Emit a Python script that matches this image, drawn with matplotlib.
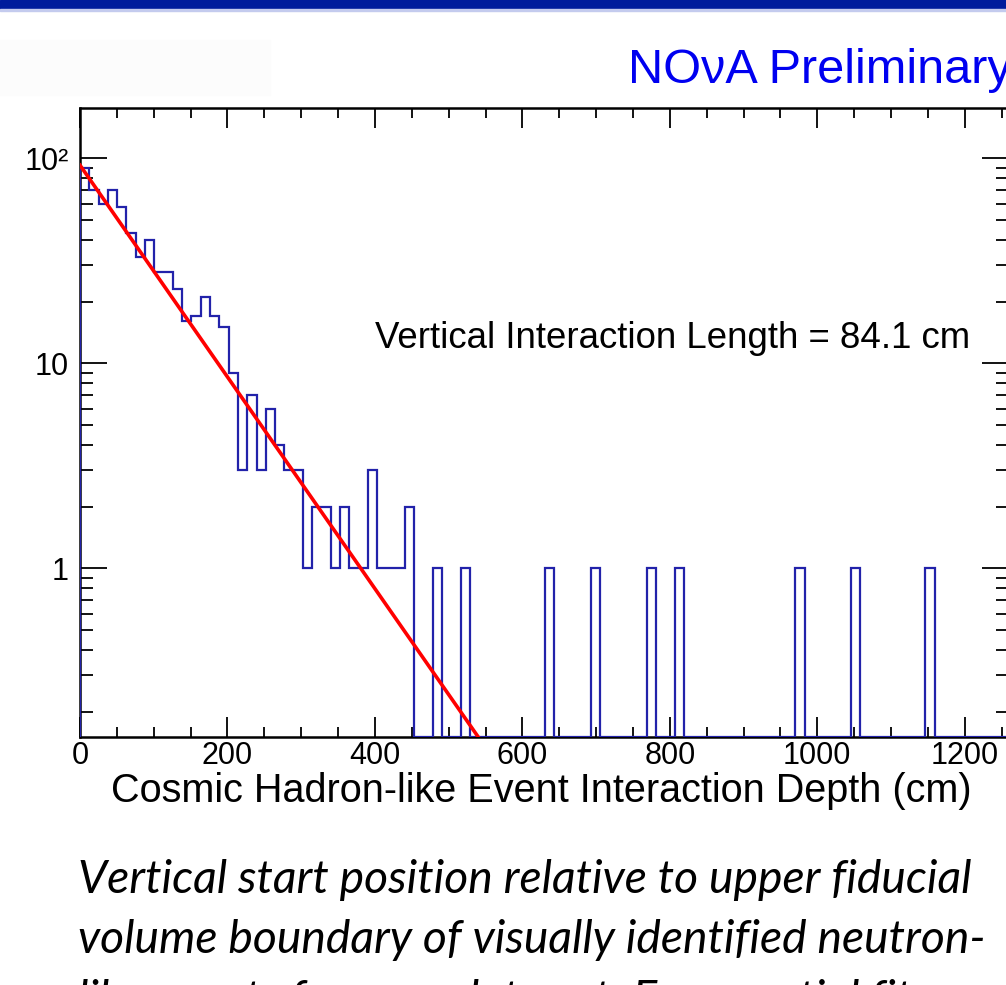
import numpy as np
import matplotlib
matplotlib.use('Agg')
import matplotlib.pyplot as plt
from matplotlib.patches import Rectangle
from matplotlib.ticker import MultipleLocator, FixedLocator, FixedFormatter, NullFormatter

# interaction depth histogram: 100 bins of 12.6 cm from 0 to 1260 cm
bin_edges = np.linspace(0, 1260, 101)
counts = [90, 70, 60, 70, 58, 43, 33, 40, 28, 28,
          23, 16, 17, 21, 17, 15, 9, 3, 7, 3,
          6, 4, 3, 3, 1, 2, 2, 1, 2, 1,
          1, 3, 1, 1, 1, 2, 0, 0, 1, 0,
          0, 1, 0, 0, 0, 0, 0, 0, 0, 0,
          1, 0, 0, 0, 0, 1, 0, 0, 0, 0,
          0, 1, 0, 0, 1, 0, 0, 0, 0, 0,
          0, 0, 0, 0, 0, 0, 0, 1, 0, 0,
          0, 0, 0, 1, 0, 0, 0, 0, 0, 0,
          0, 1, 0, 0, 0, 0, 0, 0, 0, 0]

# exponential fit
fit_norm = 92.5
interaction_length = 84.1

y_ticks = [1, 10, 100]
y_tick_labels = ['1', '10', '10²']
x_tick_step = 200

caption_lines = [
    'Vertical start position relative to upper fiducial',
    'volume boundary of visually identified neutron-',
    'like events for scan data set. Exponential fit',
]

W, H = 1006, 985
y_min, y_max = 0.1503, 175.9

plt.rcParams['font.family'] = ['Liberation Sans', 'DejaVu Sans']

fig = plt.figure(figsize=(W / 100, H / 100), dpi=100)

# slide header bar
fig.patches.append(Rectangle((0, 1 - 9 / H), 1, 9 / H, transform=fig.transFigure,
                             color='#001c9c', zorder=0))
fig.patches.append(Rectangle((0, 1 - 11 / H), 1, 2 / H, transform=fig.transFigure,
                             color='#c4cbee', zorder=0))
fig.patches.append(Rectangle((0, 1 - 95 / H), 270 / W, 55 / H, transform=fig.transFigure,
                             color='#fcfcfc', zorder=0))

ax = fig.add_axes([80 / W, 1 - 737 / H, 929 / W, 629 / H])

counts_arr = np.array(counts, dtype=float)
ax.stairs(np.where(counts_arr > 0, counts_arr, y_min), bin_edges, baseline=y_min,
          color='#2222aa', linewidth=1.6, zorder=3)

x_fit = np.linspace(0, 1260, 600)
ax.plot(x_fit, fit_norm * np.exp(-x_fit / interaction_length),
        color='#ff0000', linewidth=2.6, zorder=4)

ax.set_yscale('log')
ax.set_xlim(0, 1260)
ax.set_ylim(y_min, y_max)

ax.xaxis.set_major_locator(MultipleLocator(x_tick_step))
ax.xaxis.set_minor_locator(MultipleLocator(50))
ax.yaxis.set_major_locator(FixedLocator(y_ticks))
ax.yaxis.set_major_formatter(FixedFormatter(y_tick_labels))
minor_y = [m * 10.0 ** e for e in (-1, 0, 1, 2) for m in range(2, 10)]
ax.yaxis.set_minor_locator(FixedLocator(minor_y))
ax.yaxis.set_minor_formatter(NullFormatter())

ax.tick_params(which='both', direction='in', top=True, right=True,
               width=1.3, colors='black', labelsize=22)
ax.tick_params(axis='x', which='major', length=14.4, pad=3)
ax.tick_params(axis='x', which='minor', length=7.2)
ax.tick_params(axis='y', which='major', length=19.4, pad=8)
ax.tick_params(axis='y', which='minor', length=9.4)
for sp in ax.spines.values():
    sp.set_linewidth(1.8)

fig.text(111 / W, 1 - 802 / H, 'Cosmic Hadron-like Event Interaction Depth (cm)',
         fontsize=28.5, ha='left', va='baseline')
fig.text(9 / W, 1 - 420 / H, '# Events', fontsize=28.5, rotation=90,
         ha='right', va='center')
fig.text(375 / W, 1 - 338 / H, 'Vertical Interaction Length = 84.1 cm',
         fontsize=26.4, ha='left', va='center')
fig.text(628 / W, 1 - 83 / H, 'NOνA Preliminary', fontsize=35,
         color='#0000f0', ha='left', va='baseline')

for i, line in enumerate(caption_lines):
    fig.text(78 / W, 1 - (893 + 60 * i) / H, line, fontsize=33.3,
             family=['Lato', 'DejaVu Sans'], style='italic',
             ha='left', va='baseline')

fig.savefig('out.png', dpi=100)
